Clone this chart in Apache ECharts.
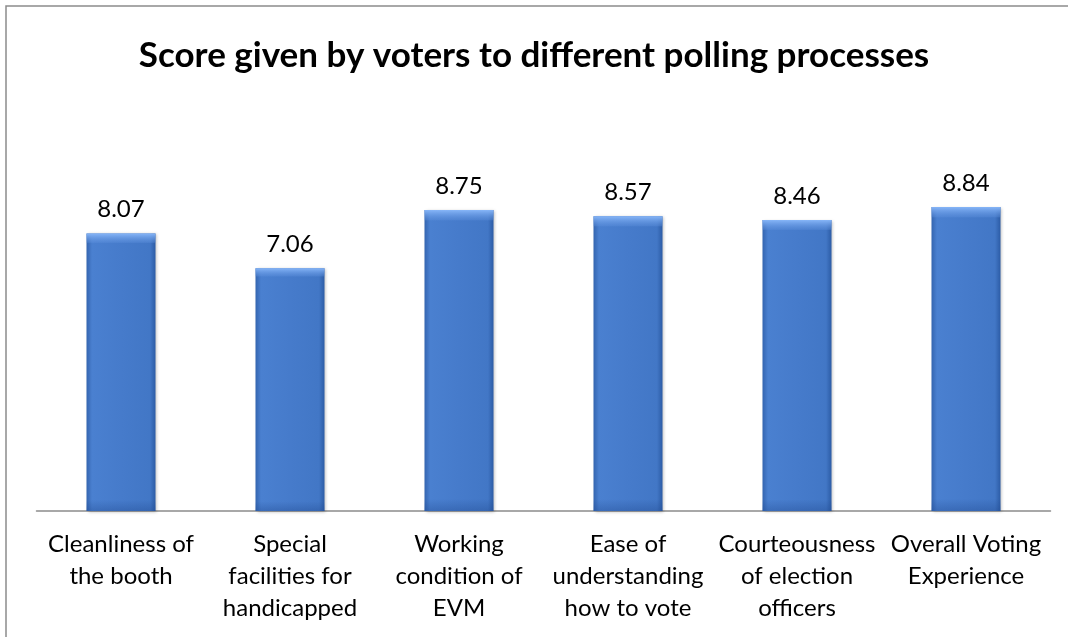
<!DOCTYPE html>
<html>
<head>
<meta charset="utf-8">
<script src="https://cdn.jsdelivr.net/npm/echarts@6/dist/echarts.min.js"></script>
<style>
html,body{margin:0;padding:0;background:#fff;}
#chart{width:1068px;height:637px;}
</style>
</head>
<body>
<div id="chart"></div>
<script>
const titleText = 'Score given by voters to different polling processes';
const categories = [
  'Cleanliness of\nthe booth',
  'Special\nfacilities for\nhandicapped',
  'Working\ncondition of\nEVM',
  'Ease of\nunderstanding\nhow to vote',
  'Courteousness\nof election\nofficers',
  'Overall Voting\nExperience'
];
const scores = [8.07, 7.06, 8.75, 8.57, 8.46, 8.84];

const FONT = 'Lato';
const chart = echarts.init(document.getElementById('chart'), null, {renderer: 'canvas'});
chart.setOption({
  animation: false,
  backgroundColor: '#fff',
  title: {
    text: titleText,
    left: 'center',
    top: 33,
    padding: [5, 5, 5, 21],
    textStyle: {fontFamily: FONT, fontWeight: 'bold', fontSize: 35, color: '#000'}
  },
  graphic: [{
    type: 'rect',
    shape: {x: 6, y: 6, width: 1200, height: 800},
    style: {fill: 'none', stroke: '#8c8c8c', lineWidth: 1.5},
    silent: true, z: 100
  }],
  grid: {left: 36.5, right: 17.5, top: 167, bottom: 126},
  xAxis: {
    type: 'category',
    data: categories,
    axisLine: {lineStyle: {color: '#8c8c8c', width: 1.5}},
    axisTick: {show: false},
    axisLabel: {interval: 0, fontFamily: FONT, fontSize: 24, lineHeight: 32, color: '#000', margin: 17}
  },
  yAxis: {type: 'value', min: 0, max: 10, show: false, splitLine: {show: false}},
  series: [{
    type: 'bar',
    data: scores,
    barWidth: 69,
    itemStyle: {
      color: new echarts.graphic.LinearGradient(0, 0, 1, 0, [
        {offset: 0, color: '#3465b0'},
        {offset: 0.08, color: '#4a80d0'},
        {offset: 0.5, color: '#467bcb'},
        {offset: 0.92, color: '#4277c6'},
        {offset: 1, color: '#2c5ca6'}
      ]),
      shadowColor: 'rgba(0,0,0,0.25)', shadowBlur: 3, shadowOffsetX: 1, shadowOffsetY: 1
    },
    label: {
      show: true, position: 'top', distance: 12,
      fontFamily: FONT, fontSize: 24, color: '#000',
      formatter: p => p.value.toFixed(2)
    }
  }, {
    type: 'bar',
    data: scores,
    barWidth: 69,
    barGap: '-100%',
    silent: true,
    itemStyle: {
      color: new echarts.graphic.LinearGradient(0, 0, 0, 1, [
        {offset: 0, color: 'rgba(135,182,248,1)'},
        {offset: 0.032, color: 'rgba(100,150,225,0.35)'},
        {offset: 0.036, color: 'rgba(100,150,225,0)'},
        {offset: 0.96, color: 'rgba(30,70,140,0)'},
        {offset: 1, color: 'rgba(30,70,140,0.35)'}
      ])
    }
  }]
});
</script>
</body>
</html>
